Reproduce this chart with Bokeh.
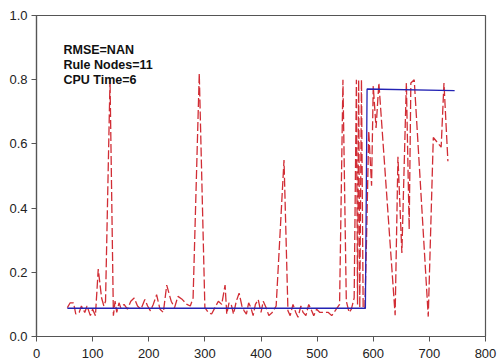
from bokeh.plotting import figure
from bokeh.models import FixedTicker, Range1d, Label, PrintfTickFormatter
from bokeh.embed import file_html
from bokeh.resources import INLINE

# Desired (blue) output: step function
target_x = [55, 586, 589, 745]
target_y = [0.088, 0.088, 0.771, 0.766]

# Model (red dashed) output
model_x = [55, 60, 66, 70, 76, 80, 86, 90, 96, 100, 105, 110, 116, 120, 123, 131, 137,
           140, 143, 147, 150, 156, 162, 168, 174, 180, 186, 193, 198, 203, 208, 214,
           220, 226, 232, 240, 246, 252, 260, 268, 274, 279, 290, 300, 306, 312, 318,
           324, 330, 336, 339, 343, 347, 351, 356, 361, 366, 370, 374, 378, 382, 386,
           390, 395, 400, 404, 409, 414, 420, 427, 441, 448, 452, 457, 462, 466, 471,
           475, 480, 485, 489, 494, 499, 505, 512, 520, 526, 532, 540, 546, 552, 557,
           561, 566, 570, 572, 574, 576, 579, 582, 585, 588, 592, 597, 600, 605, 610,
           639, 644, 651, 659, 664, 667, 673, 698, 707, 721, 726, 733]
model_y = [0.09, 0.105, 0.105, 0.07, 0.075, 0.095, 0.075, 0.095, 0.065, 0.085, 0.065,
           0.21, 0.12, 0.095, 0.11, 0.80, 0.065, 0.11, 0.075, 0.105, 0.09, 0.10, 0.085,
           0.11, 0.12, 0.095, 0.085, 0.115, 0.095, 0.08, 0.10, 0.13, 0.085, 0.075, 0.16,
           0.11, 0.09, 0.125, 0.115, 0.10, 0.095, 0.12, 0.82, 0.09, 0.075, 0.07, 0.09,
           0.11, 0.10, 0.16, 0.07, 0.105, 0.10, 0.07, 0.11, 0.135, 0.095, 0.08, 0.07,
           0.105, 0.09, 0.065, 0.10, 0.115, 0.075, 0.11, 0.09, 0.065, 0.075, 0.095,
           0.55, 0.08, 0.065, 0.10, 0.075, 0.06, 0.095, 0.075, 0.065, 0.10, 0.085,
           0.065, 0.085, 0.075, 0.075, 0.075, 0.065, 0.08, 0.10, 0.80, 0.11, 0.075,
           0.085, 0.12, 0.80, 0.10, 0.80, 0.09, 0.80, 0.09, 0.085, 0.30, 0.64, 0.47,
           0.78, 0.65, 0.79, 0.066, 0.56, 0.26, 0.79, 0.334, 0.79, 0.80, 0.062, 0.62,
           0.59, 0.79, 0.546]

x_ticks = [0, 100, 200, 300, 400, 500, 600, 700, 800]
y_ticks = [0.0, 0.2, 0.4, 0.6, 0.8, 1.0]
info_lines = ["RMSE=NAN", "Rule Nodes=11", "CPU Time=6"]

p = figure(width=497, height=360, output_backend="svg", toolbar_location=None,
           x_range=Range1d(0, 800), y_range=Range1d(0, 1.0),
           min_border_left=36, min_border_right=12, min_border_top=15, min_border_bottom=22)
p.xgrid.visible = False
p.ygrid.visible = False
p.outline_line_color = "#555555"
p.outline_line_width = 1.2
p.background_fill_color = "white"
p.border_fill_color = "white"

for ax in (p.xaxis[0], p.yaxis[0]):
    ax.axis_line_color = "#555555"
    ax.axis_line_width = 1.2
    ax.major_tick_line_color = "#555555"
    ax.major_tick_in = 0
    ax.major_tick_out = 5
    ax.minor_tick_line_color = None
    ax.major_label_text_font = "Liberation Sans"
    ax.major_label_text_font_size = "13px"
    ax.major_label_text_color = "#222222"
p.xaxis.ticker = FixedTicker(ticks=x_ticks)
p.yaxis.ticker = FixedTicker(ticks=y_ticks)
p.yaxis.formatter = PrintfTickFormatter(format="%.1f")
p.xaxis.major_label_standoff = 7
p.yaxis.major_label_standoff = 4

p.line(model_x, model_y, line_color="#d12d35", line_width=1.3, line_dash="9 3")
p.line(target_x, target_y, line_color="#2323b4", line_width=1.3)

for i, t in enumerate(info_lines):
    p.add_layout(Label(x=48, y=0.914 - 0.0464 * i, text=t,
                       text_font="Liberation Sans", text_font_style="bold",
                       text_font_size="12.5px", text_color="#111111",
                       text_baseline="top"))

open("out.html", "w").write(file_html(p, INLINE))
